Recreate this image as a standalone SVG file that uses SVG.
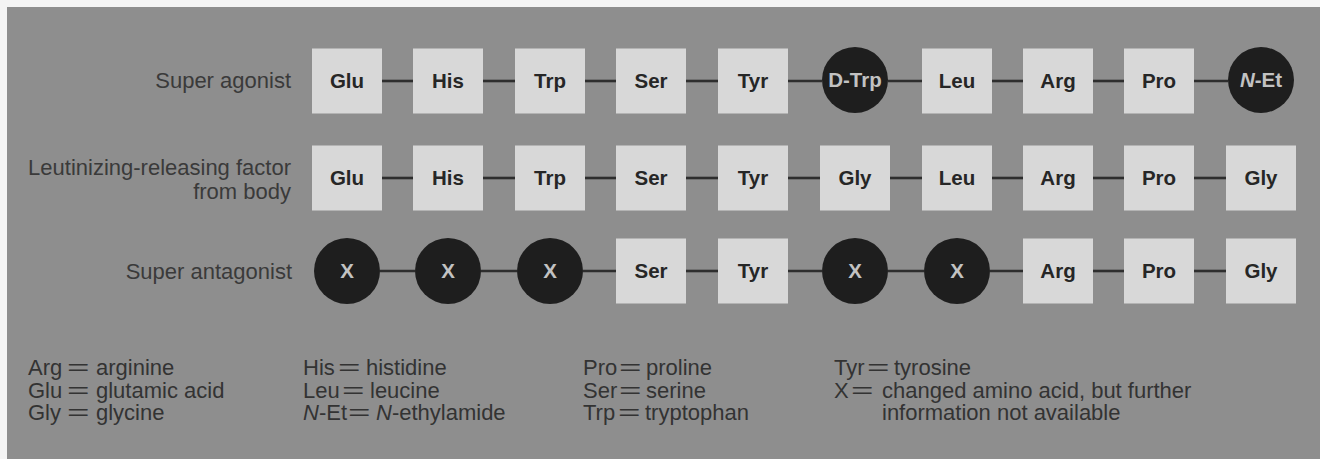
<svg xmlns="http://www.w3.org/2000/svg" width="1320" height="459" viewBox="0 0 1320 459">
<style>
  .panel{fill:#8e8e8e}
  .box{fill:#d8d8d8}
  .circ{fill:#1e1e1e}
  .lbl{font-family:"Liberation Sans",Arial,sans-serif;font-size:20.5px;font-weight:bold;fill:#262626;text-anchor:middle}
  .clbl{font-family:"Liberation Sans",Arial,sans-serif;font-size:20.5px;font-weight:bold;fill:#c2c2c2;text-anchor:middle}
  .row{font-family:"Liberation Sans",Arial,sans-serif;font-size:22px;fill:#3a3a3a;text-anchor:end}
  .leg{font-family:"Liberation Sans",Arial,sans-serif;font-size:22px;fill:#333}
  .conn line{stroke:#2e2e2e;stroke-width:2.6}
</style>
<rect x="0" y="0" width="1320" height="459" fill="#f4f4f4"/>
<rect class="panel" x="7" y="7" width="1313" height="452"/>

<g id="row-labels">
  <text class="row" x="291" y="88">Super agonist</text>
  <text class="row" x="291" y="175">Leutinizing-releasing factor</text>
  <text class="row" x="291" y="199">from body</text>
  <text class="row" x="292" y="279">Super antagonist</text>
</g>

<g id="connectors" class="conn">
  <line x1="382" y1="81" x2="413" y2="81"/>
  <line x1="483" y1="81" x2="515" y2="81"/>
  <line x1="585" y1="81" x2="616" y2="81"/>
  <line x1="686" y1="81" x2="718" y2="81"/>
  <line x1="788" y1="81" x2="822" y2="81"/>
  <line x1="888" y1="81" x2="922" y2="81"/>
  <line x1="992" y1="81" x2="1023" y2="81"/>
  <line x1="1093" y1="81" x2="1124" y2="81"/>
  <line x1="1194" y1="81" x2="1228" y2="81"/>

  <line x1="382" y1="178" x2="413" y2="178"/>
  <line x1="483" y1="178" x2="515" y2="178"/>
  <line x1="585" y1="178" x2="616" y2="178"/>
  <line x1="686" y1="178" x2="718" y2="178"/>
  <line x1="788" y1="178" x2="820" y2="178"/>
  <line x1="890" y1="178" x2="922" y2="178"/>
  <line x1="992" y1="178" x2="1023" y2="178"/>
  <line x1="1093" y1="178" x2="1124" y2="178"/>
  <line x1="1194" y1="178" x2="1226" y2="178"/>

  <line x1="380" y1="271" x2="415" y2="271"/>
  <line x1="481" y1="271" x2="517" y2="271"/>
  <line x1="583" y1="271" x2="616" y2="271"/>
  <line x1="686" y1="271" x2="718" y2="271"/>
  <line x1="788" y1="271" x2="822" y2="271"/>
  <line x1="888" y1="271" x2="924" y2="271"/>
  <line x1="990" y1="271" x2="1023" y2="271"/>
  <line x1="1093" y1="271" x2="1124" y2="271"/>
  <line x1="1194" y1="271" x2="1226" y2="271"/>
</g>

<!-- Row 1: Super agonist -->
<g id="r1-glu"><rect class="box" x="312" y="48.5" width="70" height="65"/><text class="lbl" x="347" y="88">Glu</text></g>
<g id="r1-his"><rect class="box" x="413" y="48.5" width="70" height="65"/><text class="lbl" x="448" y="88">His</text></g>
<g id="r1-trp"><rect class="box" x="515" y="48.5" width="70" height="65"/><text class="lbl" x="550" y="88">Trp</text></g>
<g id="r1-ser"><rect class="box" x="616" y="48.5" width="70" height="65"/><text class="lbl" x="651" y="88">Ser</text></g>
<g id="r1-tyr"><rect class="box" x="718" y="48.5" width="70" height="65"/><text class="lbl" x="753" y="88">Tyr</text></g>
<g id="r1-dtrp"><circle class="circ" cx="855" cy="80" r="33"/><text class="clbl" x="855" y="87">D-Trp</text></g>
<g id="r1-leu"><rect class="box" x="922" y="48.5" width="70" height="65"/><text class="lbl" x="957" y="88">Leu</text></g>
<g id="r1-arg"><rect class="box" x="1023" y="48.5" width="70" height="65"/><text class="lbl" x="1058" y="88">Arg</text></g>
<g id="r1-pro"><rect class="box" x="1124" y="48.5" width="70" height="65"/><text class="lbl" x="1159" y="88">Pro</text></g>
<g id="r1-net"><circle class="circ" cx="1261" cy="80" r="33"/><text class="clbl" x="1261" y="87"><tspan font-style="italic">N</tspan>-Et</text></g>

<!-- Row 2: LRF from body -->
<g id="r2-glu"><rect class="box" x="312" y="145.5" width="70" height="65"/><text class="lbl" x="347" y="185">Glu</text></g>
<g id="r2-his"><rect class="box" x="413" y="145.5" width="70" height="65"/><text class="lbl" x="448" y="185">His</text></g>
<g id="r2-trp"><rect class="box" x="515" y="145.5" width="70" height="65"/><text class="lbl" x="550" y="185">Trp</text></g>
<g id="r2-ser"><rect class="box" x="616" y="145.5" width="70" height="65"/><text class="lbl" x="651" y="185">Ser</text></g>
<g id="r2-tyr"><rect class="box" x="718" y="145.5" width="70" height="65"/><text class="lbl" x="753" y="185">Tyr</text></g>
<g id="r2-gly"><rect class="box" x="820" y="145.5" width="70" height="65"/><text class="lbl" x="855" y="185">Gly</text></g>
<g id="r2-leu"><rect class="box" x="922" y="145.5" width="70" height="65"/><text class="lbl" x="957" y="185">Leu</text></g>
<g id="r2-arg"><rect class="box" x="1023" y="145.5" width="70" height="65"/><text class="lbl" x="1058" y="185">Arg</text></g>
<g id="r2-pro"><rect class="box" x="1124" y="145.5" width="70" height="65"/><text class="lbl" x="1159" y="185">Pro</text></g>
<g id="r2-gly2"><rect class="box" x="1226" y="145.5" width="70" height="65"/><text class="lbl" x="1261" y="185">Gly</text></g>

<!-- Row 3: Super antagonist -->
<g id="r3-x1"><circle class="circ" cx="347" cy="271" r="33"/><text class="clbl" x="347" y="278">X</text></g>
<g id="r3-x2"><circle class="circ" cx="448" cy="271" r="33"/><text class="clbl" x="448" y="278">X</text></g>
<g id="r3-x3"><circle class="circ" cx="550" cy="271" r="33"/><text class="clbl" x="550" y="278">X</text></g>
<g id="r3-ser"><rect class="box" x="616" y="238.5" width="70" height="65"/><text class="lbl" x="651" y="278">Ser</text></g>
<g id="r3-tyr"><rect class="box" x="718" y="238.5" width="70" height="65"/><text class="lbl" x="753" y="278">Tyr</text></g>
<g id="r3-x4"><circle class="circ" cx="855" cy="271" r="33"/><text class="clbl" x="855" y="278">X</text></g>
<g id="r3-x5"><circle class="circ" cx="957" cy="271" r="33"/><text class="clbl" x="957" y="278">X</text></g>
<g id="r3-arg"><rect class="box" x="1023" y="238.5" width="70" height="65"/><text class="lbl" x="1058" y="278">Arg</text></g>
<g id="r3-pro"><rect class="box" x="1124" y="238.5" width="70" height="65"/><text class="lbl" x="1159" y="278">Pro</text></g>
<g id="r3-gly"><rect class="box" x="1226" y="238.5" width="70" height="65"/><text class="lbl" x="1261" y="278">Gly</text></g>

<!-- Legend -->
<g id="legend" class="leg">
  <text x="28" y="375">Arg</text><text transform="translate(67,375) scale(1.75,1)">=</text><text x="96" y="375">arginine</text>
  <text x="28" y="397.5">Glu</text><text transform="translate(67,397.5) scale(1.75,1)">=</text><text x="96" y="397.5">glutamic acid</text>
  <text x="28" y="420">Gly</text><text transform="translate(67,420) scale(1.75,1)">=</text><text x="96" y="420">glycine</text>

  <text x="303" y="375">His</text><text transform="translate(338,375) scale(1.75,1)">=</text><text x="366" y="375">histidine</text>
  <text x="303" y="397.5">Leu</text><text transform="translate(342,397.5) scale(1.75,1)">=</text><text x="370" y="397.5">leucine</text>
  <text x="303" y="420"><tspan font-style="italic">N</tspan>-Et</text><text transform="translate(348,420) scale(1.75,1)">=</text><text x="376" y="420"><tspan font-style="italic">N</tspan>-ethylamide</text>

  <text x="583" y="375">Pro</text><text transform="translate(619,375) scale(1.75,1)">=</text><text x="646" y="375">proline</text>
  <text x="583" y="397.5">Ser</text><text transform="translate(619,397.5) scale(1.75,1)">=</text><text x="646" y="397.5">serine</text>
  <text x="583" y="420">Trp</text><text transform="translate(618,420) scale(1.75,1)">=</text><text x="645" y="420">tryptophan</text>

  <text x="834" y="375">Tyr</text><text transform="translate(867,375) scale(1.75,1)">=</text><text x="894" y="375">tyrosine</text>
  <text x="834" y="397.5">X</text><text transform="translate(851,397.5) scale(1.75,1)">=</text><text x="882" y="397.5">changed amino acid, but further</text>
  <text x="882" y="420">information not available</text>
</g>
</svg>
